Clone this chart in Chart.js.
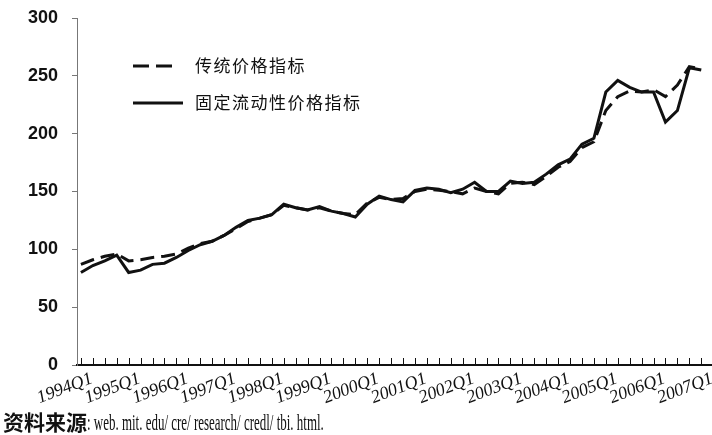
<!DOCTYPE html>
<html>
<head>
<meta charset="utf-8">
<script src="https://cdn.jsdelivr.net/npm/chart.js@4.4.1/dist/chart.umd.min.js"></script>
<style>
  html, body { margin: 0; padding: 0; background: #fff; }
  #wrap { position: relative; width: 712px; height: 435px; overflow: hidden; }
  #source {
    position: absolute; left: 3px; top: 406px; white-space: nowrap; color: #111;
  }
  #source .zh { font-family: "Noto Sans CJK SC", sans-serif; font-weight: 700; font-size: 21px; }
  #source .en {
    display: inline-block; font-family: "Liberation Serif", serif; font-size: 24px;
    transform: scaleX(0.54); transform-origin: left center;
  }
</style>
</head>
<body>
<div id="wrap">
  <canvas id="chart" width="712" height="435"></canvas>
  <div id="source"><span class="zh">资料来源</span><span class="en">: web. mit. edu/ cre/ research/ credl/ tbi. html.</span></div>
</div>
<script>
// 季度标签
const quarters = [
  '1994Q1', '1994Q2', '1994Q3', '1994Q4', '1995Q1', '1995Q2', '1995Q3', '1995Q4',
  '1996Q1', '1996Q2', '1996Q3', '1996Q4', '1997Q1', '1997Q2', '1997Q3', '1997Q4',
  '1998Q1', '1998Q2', '1998Q3', '1998Q4', '1999Q1', '1999Q2', '1999Q3', '1999Q4',
  '2000Q1', '2000Q2', '2000Q3', '2000Q4', '2001Q1', '2001Q2', '2001Q3', '2001Q4',
  '2002Q1', '2002Q2', '2002Q3', '2002Q4', '2003Q1', '2003Q2', '2003Q3', '2003Q4',
  '2004Q1', '2004Q2', '2004Q3', '2004Q4', '2005Q1', '2005Q2', '2005Q3', '2005Q4',
  '2006Q1', '2006Q2', '2006Q3', '2006Q4', '2007Q1'
];

// 传统价格指标 (虚线)
const traditionalIndex = [
  87, 91, 94, 96, 90, 91, 93, 94,
  96, 101, 105, 107, 112, 118, 124, 127,
  130, 138, 136, 134, 136, 133, 131, 130,
  140, 145, 143, 144, 150, 152, 151, 150,
  148, 153, 150, 148, 157, 158, 156, 163,
  171, 176, 188, 193, 220, 232, 237, 236,
  238, 232, 242, 258, 256
];

// 固定流动性价格指标 (实线)
const constantLiquidityIndex = [
  80, 86, 90, 95, 80, 82, 87, 88,
  93, 99, 104, 107, 112, 119, 125, 127,
  130, 139, 136, 134, 137, 133, 131, 128,
  139, 146, 143, 141, 151, 153, 152, 149,
  152, 158, 150, 150, 159, 157, 158, 165,
  173, 178, 191, 196, 236, 246, 240, 236,
  236, 210, 220, 257, 255
];

const yTicks = [0, 50, 100, 150, 200, 250, 300];

const legendItems = [
  { label: '传统价格指标', dash: [16, 7], y: 66, lineEnd: 176 },
  { label: '固定流动性价格指标', dash: [], y: 103, lineEnd: 183 }
];

const ink = '#111';

// 坐标轴上的季度刻度 + 图内图例
const decorations = {
  id: 'decorations',
  afterDatasetsDraw(chart) {
    const ctx = chart.ctx;
    const xs = chart.scales.x;
    const ys = chart.scales.y;
    ctx.save();

    ctx.strokeStyle = ink;
    ctx.lineWidth = 1;
    quarters.forEach((q, i) => {
      const px = Math.round(xs.getPixelForValue(i)) + 0.5;
      ctx.beginPath();
      ctx.moveTo(px, ys.bottom);
      ctx.lineTo(px, ys.bottom - 7);
      ctx.stroke();
    });

    legendItems.forEach(item => {
      ctx.lineWidth = 3.2;
      ctx.setLineDash(item.dash);
      ctx.beginPath();
      ctx.moveTo(133, item.y);
      ctx.lineTo(item.lineEnd, item.y);
      ctx.stroke();
      ctx.setLineDash([]);
      ctx.fillStyle = ink;
      ctx.font = '17px "Noto Sans CJK SC", sans-serif';
      ctx.letterSpacing = '1.5px';
      ctx.textBaseline = 'middle';
      ctx.fillText(item.label, 195, item.y);
    });

    ctx.restore();
  }
};

new Chart(document.getElementById('chart'), {
  type: 'line',
  data: {
    datasets: [
      {
        label: '固定流动性价格指标',
        data: constantLiquidityIndex.map((v, i) => ({ x: i, y: v })),
        borderColor: ink,
        borderWidth: 3,
        pointRadius: 0,
        tension: 0,
        order: 0
      },
      {
        label: '传统价格指标',
        data: traditionalIndex.map((v, i) => ({ x: i, y: v })),
        borderColor: ink,
        borderWidth: 3,
        borderDash: [14, 7],
        pointRadius: 0,
        tension: 0,
        order: 1
      }
    ]
  },
  options: {
    responsive: false,
    animation: false,
    layout: { padding: { top: 18, right: 0, bottom: 0, left: 0 } },
    plugins: {
      legend: { display: false },
      tooltip: { enabled: false }
    },
    scales: {
      x: {
        type: 'linear',
        min: -0.33,
        max: 52.84,
        afterBuildTicks: axis => {
          axis.ticks = quarters.map((q, i) => ({ value: i }));
        },
        afterFit: scale => { scale.height = 70; },
        border: { color: ink, width: 2 },
        grid: { display: false, drawTicks: false },
        ticks: {
          autoSkip: false,
          minRotation: 21,
          maxRotation: 21,
          labelOffset: 11,
          padding: 3,
          color: ink,
          font: { family: '"Liberation Serif", serif', style: 'italic', size: 18 },
          callback: value => (value % 4 === 0 ? quarters[value] : '')
        }
      },
      y: {
        min: 0,
        max: 300,
        afterBuildTicks: axis => {
          axis.ticks = yTicks.map(v => ({ value: v }));
        },
        afterFit: scale => {
          scale.width = 77;
          scale.paddingTop = 0;
        },
        border: { color: '#777', width: 1 },
        grid: { drawOnChartArea: false, tickLength: 5, color: '#777' },
        ticks: {
          padding: 14,
          color: ink,
          font: { family: '"Liberation Sans", Arial, sans-serif', weight: 'bold', size: 18 }
        }
      }
    }
  },
  plugins: [decorations]
});
</script>
</body>
</html>
